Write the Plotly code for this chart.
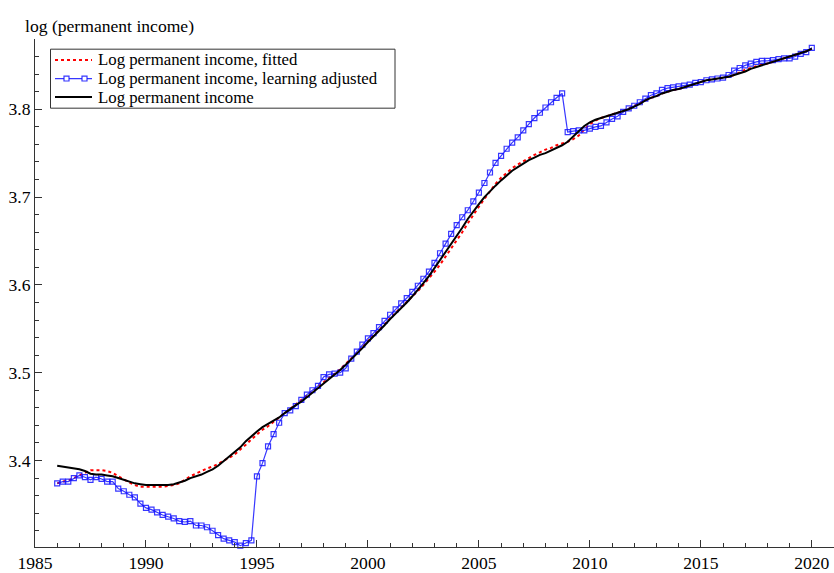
import pandas as pd
import plotly.graph_objects as go

# Quarterly observations, 1986Q1 .. 2020Q1
quarters = pd.period_range("1986Q1", "2020Q1", freq="Q")
t = [p.year + (p.quarter - 1) / 4 for p in quarters]

fitted = [
    3.374, 3.376, 3.377, 3.380,  # 1986
    3.383, 3.386, 3.389, 3.389,  # 1987
    3.389, 3.388, 3.386, 3.382,  # 1988
    3.378, 3.375, 3.372, 3.370,  # 1989
    3.370, 3.370, 3.370, 3.370,  # 1990
    3.371, 3.372, 3.374, 3.378,  # 1991
    3.382, 3.385, 3.388, 3.391,  # 1992
    3.393, 3.396, 3.400, 3.403,  # 1993
    3.407, 3.412, 3.418, 3.424,  # 1994
    3.430, 3.435, 3.439, 3.444,  # 1995
    3.448, 3.453, 3.459, 3.464,  # 1996
    3.468, 3.473, 3.478, 3.483,  # 1997
    3.489, 3.494, 3.499, 3.504,  # 1998
    3.510, 3.516, 3.522, 3.529,  # 1999
    3.536, 3.542, 3.549, 3.555,  # 2000
    3.562, 3.568, 3.575, 3.581,  # 2001
    3.587, 3.593, 3.600, 3.607,  # 2002
    3.615, 3.623, 3.632, 3.641,  # 2003
    3.651, 3.660, 3.670, 3.680,  # 2004
    3.689, 3.698, 3.707, 3.715,  # 2005
    3.722, 3.728, 3.733, 3.737,  # 2006
    3.741, 3.745, 3.748, 3.751,  # 2007
    3.754, 3.756, 3.759, 3.761,  # 2008
    3.763, 3.766, 3.770, 3.777,  # 2009
    3.783, 3.787, 3.790, 3.792,  # 2010
    3.794, 3.796, 3.798, 3.801,  # 2011
    3.804, 3.807, 3.810, 3.813,  # 2012
    3.815, 3.818, 3.820, 3.822,  # 2013
    3.823, 3.825, 3.827, 3.829,  # 2014
    3.831, 3.833, 3.834, 3.835,  # 2015
    3.836, 3.837, 3.839, 3.842,  # 2016
    3.845, 3.847, 3.849, 3.851,  # 2017
    3.852, 3.854, 3.856, 3.858,  # 2018
    3.860, 3.862, 3.864, 3.866,  # 2019
    3.869,                       # 2020
]

learning_adjusted = [
    3.374, 3.376, 3.376, 3.380,  # 1986
    3.383, 3.381, 3.378, 3.381,  # 1987
    3.379, 3.376, 3.376, 3.368,  # 1988
    3.365, 3.361, 3.358, 3.351,  # 1989
    3.346, 3.344, 3.341, 3.338,  # 1990
    3.336, 3.334, 3.331, 3.330,  # 1991
    3.331, 3.326, 3.326, 3.324,  # 1992
    3.320, 3.315, 3.311, 3.309,  # 1993
    3.307, 3.303, 3.306, 3.309,  # 1994
    3.382, 3.397, 3.416, 3.430,  # 1995
    3.443, 3.454, 3.457, 3.462,  # 1996
    3.469, 3.475, 3.480, 3.485,  # 1997
    3.495, 3.498, 3.499, 3.500,  # 1998
    3.505, 3.516, 3.524, 3.532,  # 1999
    3.539, 3.545, 3.552, 3.559,  # 2000
    3.566, 3.572, 3.579, 3.585,  # 2001
    3.592, 3.599, 3.607, 3.615,  # 2002
    3.625, 3.636, 3.647, 3.658,  # 2003
    3.668, 3.677, 3.685, 3.695,  # 2004
    3.705, 3.716, 3.728, 3.739,  # 2005
    3.747, 3.755, 3.762, 3.768,  # 2006
    3.776, 3.783, 3.790, 3.796,  # 2007
    3.802, 3.808, 3.813, 3.818,  # 2008
    3.774, 3.775, 3.776, 3.776,  # 2009
    3.778, 3.780, 3.781, 3.785,  # 2010
    3.789, 3.792, 3.797, 3.801,  # 2011
    3.804, 3.808, 3.812, 3.816,  # 2012
    3.818, 3.822, 3.824, 3.825,  # 2013
    3.826, 3.827, 3.828, 3.830,  # 2014
    3.831, 3.833, 3.834, 3.835,  # 2015
    3.836, 3.839, 3.844, 3.847,  # 2016
    3.850, 3.852, 3.854, 3.855,  # 2017
    3.855, 3.856, 3.857, 3.858,  # 2018
    3.858, 3.860, 3.863, 3.865,  # 2019
    3.870,                       # 2020
]

permanent = [
    3.394, 3.393, 3.392, 3.391,  # 1986
    3.390, 3.388, 3.385, 3.384,  # 1987
    3.384, 3.383, 3.382, 3.380,  # 1988
    3.378, 3.376, 3.374, 3.373,  # 1989
    3.372, 3.372, 3.372, 3.372,  # 1990
    3.372, 3.373, 3.375, 3.377,  # 1991
    3.380, 3.382, 3.384, 3.387,  # 1992
    3.390, 3.394, 3.399, 3.404,  # 1993
    3.409, 3.415, 3.422, 3.428,  # 1994
    3.433, 3.438, 3.442, 3.446,  # 1995
    3.449, 3.454, 3.459, 3.463,  # 1996
    3.467, 3.472, 3.477, 3.482,  # 1997
    3.488, 3.493, 3.498, 3.503,  # 1998
    3.509, 3.515, 3.521, 3.528,  # 1999
    3.535, 3.541, 3.548, 3.554,  # 2000
    3.561, 3.567, 3.574, 3.580,  # 2001
    3.587, 3.594, 3.602, 3.610,  # 2002
    3.619, 3.628, 3.637, 3.646,  # 2003
    3.656, 3.665, 3.675, 3.684,  # 2004
    3.692, 3.700, 3.707, 3.713,  # 2005
    3.719, 3.725, 3.730, 3.734,  # 2006
    3.738, 3.742, 3.745, 3.748,  # 2007
    3.750, 3.753, 3.756, 3.759,  # 2008
    3.763, 3.769, 3.776, 3.781,  # 2009
    3.785, 3.788, 3.790, 3.792,  # 2010
    3.794, 3.796, 3.798, 3.800,  # 2011
    3.803, 3.806, 3.810, 3.813,  # 2012
    3.815, 3.818, 3.820, 3.822,  # 2013
    3.823, 3.825, 3.827, 3.829,  # 2014
    3.831, 3.833, 3.834, 3.835,  # 2015
    3.836, 3.837, 3.839, 3.841,  # 2016
    3.843, 3.846, 3.848, 3.850,  # 2017
    3.852, 3.854, 3.856, 3.858,  # 2018
    3.860, 3.862, 3.864, 3.866,  # 2019
    3.869,                       # 2020
]

series_names = [
    "Log permanent income, fitted",
    "Log permanent income, learning adjusted",
    "Log permanent income",
]

FONT = "Liberation Serif, Times New Roman, serif"
FS = 17.6          # axis and title text
FS_KEY = 16.8      # text inside the boxed key
W, H = 834, 573
ML, MR, MT, MB = 35, 0, 39, 20
PW, PH = W - ML - MR, H - MT - MB
RED = "#ff0000"
BLUE = "rgba(20,20,255,0.85)"


def px_x(px):
    """Horizontal pixel position -> paper coordinate."""
    return (px - ML) / PW


def px_y(py):
    """Vertical pixel position (from top) -> paper coordinate."""
    return (H - MB - py) / PH


fig = go.Figure()
fig.add_trace(go.Scatter(
    x=t, y=fitted, name=series_names[0], mode="lines",
    line=dict(color=RED, width=2, dash="dot"),
))
fig.add_trace(go.Scatter(
    x=t, y=learning_adjusted, name=series_names[1], mode="lines+markers",
    line=dict(color=BLUE, width=1.2),
    marker=dict(symbol="square-open", size=5, color=BLUE, line=dict(width=1.2)),
    cliponaxis=False,
))
fig.add_trace(go.Scatter(
    x=t, y=permanent, name=series_names[2], mode="lines",
    line=dict(color="black", width=2),
))

# Compact boxed key in the upper-left corner
row_y = [60.2, 79.0, 97.8]
shapes = [dict(type="rect", xref="paper", yref="paper",
               x0=px_x(50.5), x1=px_x(395), y0=px_y(109.0), y1=px_y(49.3),
               line=dict(color="#333333", width=1), fillcolor="white", layer="above")]
samples = [
    dict(color=RED, width=2, dash="dot"),
    dict(color=BLUE, width=1.2),
    dict(color="black", width=2),
]
for ry, ln in zip(row_y, samples):
    shapes.append(dict(type="line", xref="paper", yref="paper",
                       x0=px_x(55), x1=px_x(92), y0=px_y(ry), y1=px_y(ry),
                       line=ln, layer="above"))
for cx in (66.5, 84.5):
    shapes.append(dict(type="rect", xref="paper", yref="paper",
                       x0=px_x(cx - 2.5), x1=px_x(cx + 2.5),
                       y0=px_y(row_y[1] + 2.5), y1=px_y(row_y[1] - 2.5),
                       line=dict(color=BLUE, width=1.2), fillcolor="white", layer="above"))

annotations = [dict(text="log (permanent income)", xref="paper", yref="paper",
                    x=px_x(22.5), y=px_y(25.5), xanchor="left", yanchor="middle",
                    showarrow=False, font=dict(family=FONT, size=FS, color="black"))]
for ry, name in zip(row_y, series_names):
    annotations.append(dict(text=name, xref="paper", yref="paper",
                            x=px_x(96), y=px_y(ry), xanchor="left", yanchor="middle",
                            showarrow=False, font=dict(family=FONT, size=FS_KEY, color="black")))

fig.update_layout(
    width=W, height=H,
    margin=dict(l=ML, r=MR, t=MT, b=MB, pad=0),
    paper_bgcolor="white", plot_bgcolor="white",
    font=dict(family=FONT, size=FS, color="black"),
    showlegend=False,
    shapes=shapes,
    annotations=annotations,
    xaxis=dict(
        range=[1985, 2021], tick0=1985, dtick=5,
        ticks="inside", ticklen=7, tickwidth=1, tickcolor="#333333",
        showline=True, linecolor="#333333", linewidth=1,
        showgrid=False, zeroline=False,
        minor=dict(dtick=1, ticks="inside", ticklen=4, tickcolor="#333333", showgrid=False),
    ),
    yaxis=dict(
        range=[3.3015, 3.88], tick0=3.4, dtick=0.1, tickformat=".1f",
        ticks="inside", ticklen=7, tickwidth=1, tickcolor="#333333",
        showline=True, linecolor="#333333", linewidth=1,
        showgrid=False, zeroline=False,
        minor=dict(dtick=0.02, ticks="inside", ticklen=4, tickcolor="#333333", showgrid=False),
    ),
)

fig.write_html("out.html")
